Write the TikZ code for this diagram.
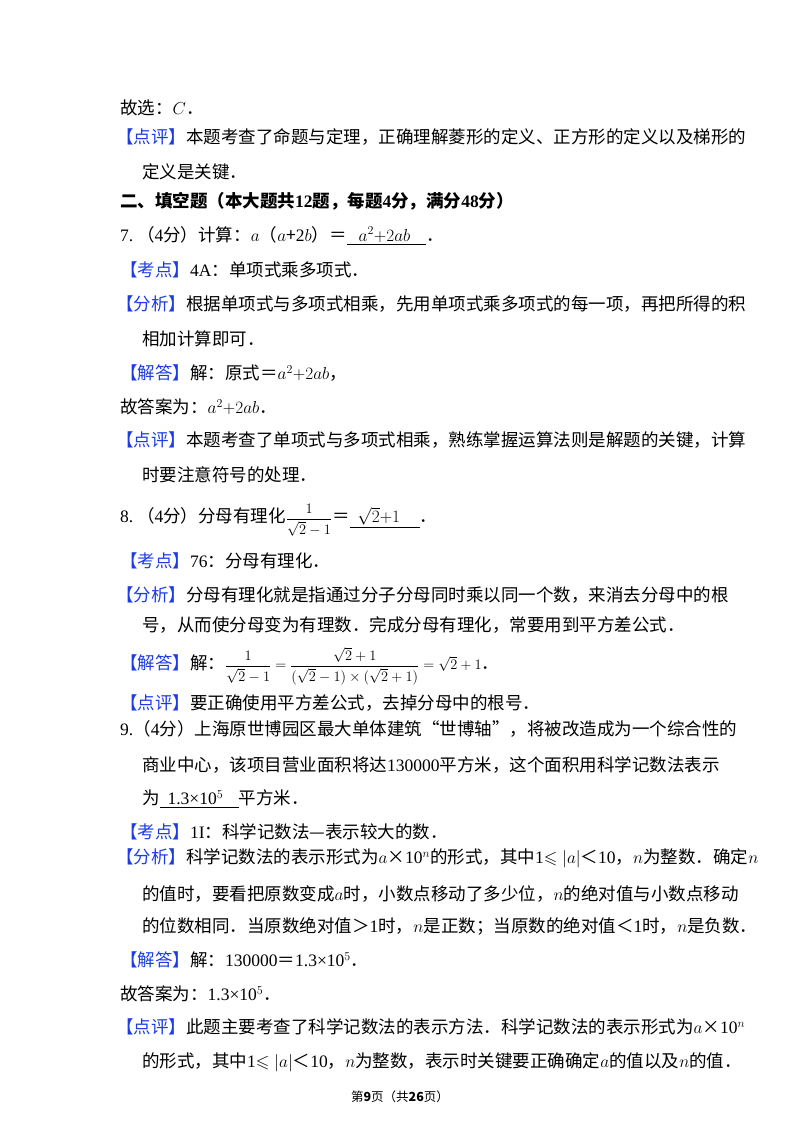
\documentclass[tikz,border=0pt]{standalone}
\usepackage{fontspec}
\setmainfont{Liberation Serif}
\newfontfamily\cjk{Noto Sans CJK SC}
\usepackage{amsmath,amssymb}
\definecolor{tagblue}{RGB}{30,60,230}
\newcommand{\tagk}[1]{\textcolor{tagblue}{【#1】}}
\newcommand{\en}[1]{{\rmfamily #1}}
\begin{document}
\begin{tikzpicture}[x=1pt,y=-1pt,
		every node/.style={font=\cjk\fontsize{17.5}{21}\selectfont, anchor=west, inner sep=0pt},
	]
	\useasboundingbox[fill=white] (0,0) rectangle (800,1132);
	\def\xl{120}
	\def\xt{116}
	\def\xi{142}

	% question 6 tail
	\node (q6end) at (\xl,108) {故选：$C$．};
	\node (q6dp) at (\xt,137) {\tagk{点评}本题考查了命题与定理，正确理解菱形的定义、正方形的定义以及梯形的};
	\node (q6dp2) at (\xi,172) {定义是关键．};

	% section heading
	\node[font=\cjk\bfseries\fontsize{17.5}{21}\selectfont] (sec2) at (\xl,201) {二、填空题（本大题共\en{\textbf{12}}题，每题\en{\textbf{4}}分，满分\en{\textbf{48}}分）};

	% question 7
	\node (q7) at (\xl,236) {\en{7.}\ （\en{4}分）计算：$a$（$a$+\en{2}$b$）＝\underline{\ \ \ $a^2{+}2ab$\ \ \ \ }．};
	\node (q7kd) at (\xl,270) {\tagk{考点}\en{4A}：单项式乘多项式．};
	\node (q7fx) at (\xt,304) {\tagk{分析}根据单项式与多项式相乘，先用单项式乘多项式的每一项，再把所得的积};
	\node (q7fx2) at (\xi,339) {相加计算即可．};
	\node (q7jd) at (\xl,373) {\tagk{解答}解：原式＝$a^2{+}2ab$，};
	\node (q7ans) at (\xl,407) {故答案为：$a^2{+}2ab$．};
	\node (q7dp) at (\xt,440) {\tagk{点评}本题考查了单项式与多项式相乘，熟练掌握运算法则是解题的关键，计算};
	\node (q7dp2) at (\xi,475) {时要注意符号的处理．};

	% question 8
	\node (q8) at (\xl,520) {\en{8.}\ （\en{4}分）分母有理化{\fontsize{15}{18}\selectfont$\dfrac{1}{\sqrt{2}-1}$}＝\underline{\ \ $\sqrt{2}{+}1$\ \ \ \ \ }．};
	\node (q8kd) at (\xl,561) {\tagk{考点}\en{76}：分母有理化．};
	\node (q8fx) at (\xt,595) {\tagk{分析}分母有理化就是指通过分子分母同时乘以同一个数，来消去分母中的根};
	\node (q8fx2) at (\xi,625) {号，从而使分母变为有理数．完成分母有理化，常要用到平方差公式．};
	\node (q8jd) at (\xl,666) {\tagk{解答}解：{\fontsize{14}{17}\selectfont$\dfrac{1}{\sqrt{2}-1}=\dfrac{\sqrt{2}+1}{(\sqrt{2}-1)\times(\sqrt{2}+1)}=\sqrt{2}+1$}．};
	\node (q8dp) at (\xl,703) {\tagk{点评}要正确使用平方差公式，去掉分母中的根号．};

	% question 9
	\node (q9) at (\xl,729) {\en{9.}（\en{4}分）上海原世博园区最大单体建筑“世博轴”，将被改造成为一个综合性的};
	\node (q9b) at (\xi,765) {商业中心，该项目营业面积将达\en{130000}平方米，这个面积用科学记数法表示};
	\node (q9c) at (\xi,799) {为\underline{\ \ \en{1.3×10$^5$}\ \ \ \ }平方米．};
	\node (q9kd) at (\xl,832) {\tagk{考点}\en{1I}：科学记数法—表示较大的数．};
	\node (q9fx) at (\xt,858) {\tagk{分析}科学记数法的表示形式为$a$×\en{10}$^n$的形式，其中\en{1}$\leqslant|a|$＜\en{10}，$n$为整数．确定$n$};
	\node (q9fx2) at (\xi,894) {的值时，要看把原数变成$a$时，小数点移动了多少位，$n$的绝对值与小数点移动};
	\node (q9fx3) at (\xi,926) {的位数相同．当原数绝对值＞\en{1}时，$n$是正数；当原数的绝对值＜\en{1}时，$n$是负数．};
	\node (q9jd) at (\xl,960) {\tagk{解答}解：\en{130000}＝\en{1.3×10$^5$}．};
	\node (q9ans) at (\xl,994) {故答案为：\en{1.3×10$^5$}．};
	\node (q9dp) at (\xt,1027) {\tagk{点评}此题主要考查了科学记数法的表示方法．科学记数法的表示形式为$a$×\en{10}$^n$};
	\node (q9dp2) at (\xi,1062) {的形式，其中\en{1}$\leqslant|a|$＜\en{10}，$n$为整数，表示时关键要正确确定$a$的值以及$n$的值．};

	% footer
	\node[anchor=center, font=\cjk\fontsize{12.5}{15}\selectfont] (foot) at (400,1097) {第\textbf{9}页（共\textbf{26}页）};
\end{tikzpicture}
\end{document}
